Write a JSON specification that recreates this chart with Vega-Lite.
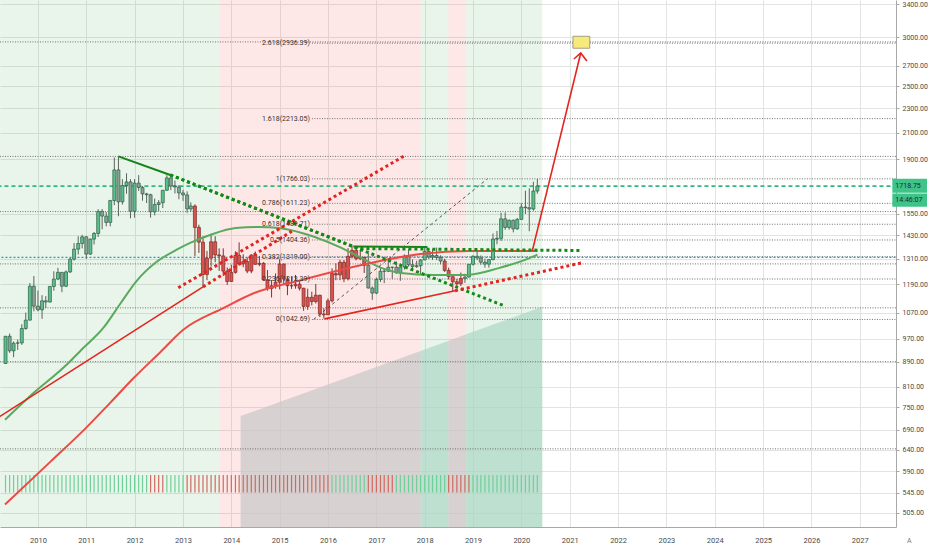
{
  "$schema": "https://vega.github.io/schema/vega-lite/v6.json",
  "width": 896,
  "height": 527,
  "autosize": {"type": "none"},
  "padding": {"left": 0, "top": 0, "right": 36, "bottom": 23},
  "background": "white",
  "config": {"view": {"stroke": null}, "font": "Roboto"},
  "datasets": {
    "bars": [
      {"d": "2009-05-01", "o": 884, "h": 980, "l": 883, "c": 979, "trend": "bull", "sig": "bull"},
      {"d": "2009-06-01", "o": 979, "h": 989, "l": 920, "c": 927, "trend": "bull", "sig": "bull"},
      {"d": "2009-07-01", "o": 927, "h": 960, "l": 905, "c": 954, "trend": "bull", "sig": "bull"},
      {"d": "2009-08-01", "o": 954, "h": 967, "l": 930, "c": 955, "trend": "bull", "sig": "bull"},
      {"d": "2009-09-01", "o": 955, "h": 1024, "l": 948, "c": 1008, "trend": "bull", "sig": "bull"},
      {"d": "2009-10-01", "o": 1008, "h": 1070, "l": 1003, "c": 1040, "trend": "bull", "sig": "bull"},
      {"d": "2009-11-01", "o": 1040, "h": 1195, "l": 1039, "c": 1181, "trend": "bull", "sig": "bull"},
      {"d": "2009-12-01", "o": 1181, "h": 1227, "l": 1075, "c": 1096, "trend": "bull", "sig": "bull"},
      {"d": "2010-01-01", "o": 1096, "h": 1162, "l": 1075, "c": 1081, "trend": "bull", "sig": "bull"},
      {"d": "2010-02-01", "o": 1081, "h": 1142, "l": 1045, "c": 1118, "trend": "bull", "sig": "bull"},
      {"d": "2010-03-01", "o": 1118, "h": 1138, "l": 1088, "c": 1113, "trend": "bull", "sig": "bull"},
      {"d": "2010-04-01", "o": 1113, "h": 1181, "l": 1111, "c": 1180, "trend": "bull", "sig": "bull"},
      {"d": "2010-05-01", "o": 1180, "h": 1249, "l": 1161, "c": 1213, "trend": "bull", "sig": "bull"},
      {"d": "2010-06-01", "o": 1213, "h": 1265, "l": 1208, "c": 1244, "trend": "bull", "sig": "bull"},
      {"d": "2010-07-01", "o": 1244, "h": 1245, "l": 1155, "c": 1181, "trend": "bull", "sig": "bull"},
      {"d": "2010-08-01", "o": 1181, "h": 1253, "l": 1177, "c": 1246, "trend": "bull", "sig": "bull"},
      {"d": "2010-09-01", "o": 1246, "h": 1313, "l": 1241, "c": 1307, "trend": "bull", "sig": "bull"},
      {"d": "2010-10-01", "o": 1307, "h": 1388, "l": 1300, "c": 1357, "trend": "bull", "sig": "bull"},
      {"d": "2010-11-01", "o": 1357, "h": 1424, "l": 1330, "c": 1386, "trend": "bull", "sig": "bull"},
      {"d": "2010-12-01", "o": 1386, "h": 1432, "l": 1361, "c": 1421, "trend": "bull", "sig": "bull"},
      {"d": "2011-01-01", "o": 1421, "h": 1424, "l": 1308, "c": 1332, "trend": "bull", "sig": "bull"},
      {"d": "2011-02-01", "o": 1332, "h": 1412, "l": 1329, "c": 1409, "trend": "bull", "sig": "bull"},
      {"d": "2011-03-01", "o": 1409, "h": 1447, "l": 1381, "c": 1439, "trend": "bull", "sig": "bull"},
      {"d": "2011-04-01", "o": 1439, "h": 1576, "l": 1420, "c": 1563, "trend": "bull", "sig": "bull"},
      {"d": "2011-05-01", "o": 1563, "h": 1577, "l": 1462, "c": 1536, "trend": "bull", "sig": "bull"},
      {"d": "2011-06-01", "o": 1536, "h": 1560, "l": 1478, "c": 1500, "trend": "bull", "sig": "bull"},
      {"d": "2011-07-01", "o": 1500, "h": 1632, "l": 1478, "c": 1628, "trend": "bull", "sig": "bull"},
      {"d": "2011-08-01", "o": 1628, "h": 1913, "l": 1600, "c": 1826, "trend": "bull", "sig": "bull"},
      {"d": "2011-09-01", "o": 1826, "h": 1921, "l": 1535, "c": 1620, "trend": "bull", "sig": "bull"},
      {"d": "2011-10-01", "o": 1620, "h": 1764, "l": 1604, "c": 1722, "trend": "bull", "sig": "bull"},
      {"d": "2011-11-01", "o": 1722, "h": 1803, "l": 1670, "c": 1746, "trend": "bull", "sig": "bull"},
      {"d": "2011-12-01", "o": 1746, "h": 1764, "l": 1523, "c": 1564, "trend": "bull", "sig": "bull"},
      {"d": "2012-01-01", "o": 1564, "h": 1764, "l": 1527, "c": 1738, "trend": "bull", "sig": "bull"},
      {"d": "2012-02-01", "o": 1738, "h": 1791, "l": 1688, "c": 1710, "trend": "bull", "sig": "bull"},
      {"d": "2012-03-01", "o": 1710, "h": 1719, "l": 1627, "c": 1669, "trend": "bull", "sig": "bull"},
      {"d": "2012-04-01", "o": 1669, "h": 1676, "l": 1613, "c": 1664, "trend": "bull", "sig": "bull"},
      {"d": "2012-05-01", "o": 1664, "h": 1670, "l": 1527, "c": 1561, "trend": "bull", "sig": "bear"},
      {"d": "2012-06-01", "o": 1561, "h": 1640, "l": 1540, "c": 1604, "trend": "bull", "sig": "bear"},
      {"d": "2012-07-01", "o": 1604, "h": 1631, "l": 1564, "c": 1615, "trend": "bull", "sig": "bear"},
      {"d": "2012-08-01", "o": 1615, "h": 1693, "l": 1583, "c": 1692, "trend": "bull", "sig": "bear"},
      {"d": "2012-09-01", "o": 1692, "h": 1790, "l": 1688, "c": 1772, "trend": "bull", "sig": "bull"},
      {"d": "2012-10-01", "o": 1772, "h": 1796, "l": 1693, "c": 1719, "trend": "bull", "sig": "bull"},
      {"d": "2012-11-01", "o": 1719, "h": 1755, "l": 1672, "c": 1713, "trend": "bull", "sig": "bull"},
      {"d": "2012-12-01", "o": 1713, "h": 1726, "l": 1636, "c": 1675, "trend": "bull", "sig": "bull"},
      {"d": "2013-01-01", "o": 1675, "h": 1695, "l": 1626, "c": 1663, "trend": "bull", "sig": "bull"},
      {"d": "2013-02-01", "o": 1663, "h": 1685, "l": 1555, "c": 1578, "trend": "bull", "sig": "bear"},
      {"d": "2013-03-01", "o": 1578, "h": 1617, "l": 1562, "c": 1595, "trend": "bull", "sig": "bear"},
      {"d": "2013-04-01", "o": 1595, "h": 1605, "l": 1321, "c": 1472, "trend": "bear", "sig": "bear"},
      {"d": "2013-05-01", "o": 1472, "h": 1487, "l": 1338, "c": 1393, "trend": "bear", "sig": "bear"},
      {"d": "2013-06-01", "o": 1393, "h": 1424, "l": 1180, "c": 1234, "trend": "bear", "sig": "bear"},
      {"d": "2013-07-01", "o": 1234, "h": 1348, "l": 1208, "c": 1312, "trend": "bear", "sig": "bear"},
      {"d": "2013-08-01", "o": 1312, "h": 1434, "l": 1271, "c": 1395, "trend": "bear", "sig": "bear"},
      {"d": "2013-09-01", "o": 1395, "h": 1424, "l": 1292, "c": 1328, "trend": "bear", "sig": "bear"},
      {"d": "2013-10-01", "o": 1328, "h": 1361, "l": 1251, "c": 1323, "trend": "bear", "sig": "bear"},
      {"d": "2013-11-01", "o": 1323, "h": 1361, "l": 1227, "c": 1250, "trend": "bear", "sig": "bear"},
      {"d": "2013-12-01", "o": 1250, "h": 1267, "l": 1187, "c": 1202, "trend": "bear", "sig": "bear"},
      {"d": "2014-01-01", "o": 1202, "h": 1280, "l": 1202, "c": 1244, "trend": "bear", "sig": "bear"},
      {"d": "2014-02-01", "o": 1244, "h": 1346, "l": 1238, "c": 1326, "trend": "bear", "sig": "bear"},
      {"d": "2014-03-01", "o": 1326, "h": 1392, "l": 1277, "c": 1284, "trend": "bear", "sig": "bear"},
      {"d": "2014-04-01", "o": 1284, "h": 1331, "l": 1268, "c": 1295, "trend": "bear", "sig": "bear"},
      {"d": "2014-05-01", "o": 1295, "h": 1315, "l": 1240, "c": 1250, "trend": "bear", "sig": "bear"},
      {"d": "2014-06-01", "o": 1250, "h": 1332, "l": 1240, "c": 1327, "trend": "bear", "sig": "bear"},
      {"d": "2014-07-01", "o": 1327, "h": 1345, "l": 1281, "c": 1282, "trend": "bear", "sig": "bear"},
      {"d": "2014-08-01", "o": 1282, "h": 1323, "l": 1273, "c": 1287, "trend": "bear", "sig": "bear"},
      {"d": "2014-09-01", "o": 1287, "h": 1292, "l": 1207, "c": 1210, "trend": "bear", "sig": "bear"},
      {"d": "2014-10-01", "o": 1210, "h": 1255, "l": 1161, "c": 1171, "trend": "bear", "sig": "bear"},
      {"d": "2014-11-01", "o": 1171, "h": 1208, "l": 1132, "c": 1183, "trend": "bear", "sig": "bear"},
      {"d": "2014-12-01", "o": 1183, "h": 1239, "l": 1170, "c": 1199, "trend": "bear", "sig": "bear"},
      {"d": "2015-01-01", "o": 1199, "h": 1307, "l": 1167, "c": 1283, "trend": "bear", "sig": "bear"},
      {"d": "2015-02-01", "o": 1283, "h": 1286, "l": 1190, "c": 1213, "trend": "bear", "sig": "bear"},
      {"d": "2015-03-01", "o": 1213, "h": 1224, "l": 1142, "c": 1183, "trend": "bear", "sig": "bear"},
      {"d": "2015-04-01", "o": 1183, "h": 1224, "l": 1169, "c": 1183, "trend": "bear", "sig": "bear"},
      {"d": "2015-05-01", "o": 1183, "h": 1232, "l": 1170, "c": 1190, "trend": "bear", "sig": "bear"},
      {"d": "2015-06-01", "o": 1190, "h": 1205, "l": 1162, "c": 1172, "trend": "bear", "sig": "bear"},
      {"d": "2015-07-01", "o": 1172, "h": 1174, "l": 1077, "c": 1095, "trend": "bear", "sig": "bear"},
      {"d": "2015-08-01", "o": 1095, "h": 1170, "l": 1081, "c": 1133, "trend": "bear", "sig": "bear"},
      {"d": "2015-09-01", "o": 1133, "h": 1157, "l": 1099, "c": 1115, "trend": "bear", "sig": "bear"},
      {"d": "2015-10-01", "o": 1115, "h": 1191, "l": 1107, "c": 1142, "trend": "bear", "sig": "bear"},
      {"d": "2015-11-01", "o": 1142, "h": 1143, "l": 1052, "c": 1064, "trend": "bear", "sig": "bear"},
      {"d": "2015-12-01", "o": 1064, "h": 1088, "l": 1046, "c": 1061, "trend": "bear", "sig": "bear"},
      {"d": "2016-01-01", "o": 1061, "h": 1128, "l": 1061, "c": 1118, "trend": "bear", "sig": "bear"},
      {"d": "2016-02-01", "o": 1118, "h": 1263, "l": 1111, "c": 1238, "trend": "bear", "sig": "bull"},
      {"d": "2016-03-01", "o": 1238, "h": 1287, "l": 1208, "c": 1232, "trend": "bear", "sig": "bull"},
      {"d": "2016-04-01", "o": 1232, "h": 1304, "l": 1208, "c": 1292, "trend": "bear", "sig": "bull"},
      {"d": "2016-05-01", "o": 1292, "h": 1303, "l": 1199, "c": 1215, "trend": "bear", "sig": "bull"},
      {"d": "2016-06-01", "o": 1215, "h": 1362, "l": 1207, "c": 1321, "trend": "bear", "sig": "bull"},
      {"d": "2016-07-01", "o": 1321, "h": 1375, "l": 1310, "c": 1351, "trend": "bear", "sig": "bull"},
      {"d": "2016-08-01", "o": 1351, "h": 1366, "l": 1301, "c": 1309, "trend": "bear", "sig": "bull"},
      {"d": "2016-09-01", "o": 1309, "h": 1352, "l": 1302, "c": 1316, "trend": "bear", "sig": "bull"},
      {"d": "2016-10-01", "o": 1316, "h": 1318, "l": 1241, "c": 1277, "trend": "bear", "sig": "bull"},
      {"d": "2016-11-01", "o": 1277, "h": 1337, "l": 1171, "c": 1173, "trend": "bull", "sig": "bear"},
      {"d": "2016-12-01", "o": 1173, "h": 1180, "l": 1122, "c": 1151, "trend": "bull", "sig": "bear"},
      {"d": "2017-01-01", "o": 1151, "h": 1220, "l": 1146, "c": 1211, "trend": "bull", "sig": "bear"},
      {"d": "2017-02-01", "o": 1211, "h": 1264, "l": 1200, "c": 1249, "trend": "bull", "sig": "bear"},
      {"d": "2017-03-01", "o": 1249, "h": 1263, "l": 1195, "c": 1249, "trend": "bull", "sig": "bear"},
      {"d": "2017-04-01", "o": 1249, "h": 1295, "l": 1245, "c": 1268, "trend": "bull", "sig": "bear"},
      {"d": "2017-05-01", "o": 1268, "h": 1270, "l": 1214, "c": 1268, "trend": "bull", "sig": "bear"},
      {"d": "2017-06-01", "o": 1268, "h": 1296, "l": 1237, "c": 1242, "trend": "bull", "sig": "bull"},
      {"d": "2017-07-01", "o": 1242, "h": 1270, "l": 1205, "c": 1269, "trend": "bull", "sig": "bull"},
      {"d": "2017-08-01", "o": 1269, "h": 1331, "l": 1257, "c": 1322, "trend": "bull", "sig": "bull"},
      {"d": "2017-09-01", "o": 1322, "h": 1357, "l": 1271, "c": 1280, "trend": "bull", "sig": "bull"},
      {"d": "2017-10-01", "o": 1280, "h": 1306, "l": 1260, "c": 1271, "trend": "bull", "sig": "bull"},
      {"d": "2017-11-01", "o": 1271, "h": 1299, "l": 1265, "c": 1275, "trend": "bull", "sig": "bull"},
      {"d": "2017-12-01", "o": 1275, "h": 1307, "l": 1236, "c": 1303, "trend": "bull", "sig": "bull"},
      {"d": "2018-01-01", "o": 1303, "h": 1366, "l": 1302, "c": 1345, "trend": "bull", "sig": "bull"},
      {"d": "2018-02-01", "o": 1345, "h": 1361, "l": 1307, "c": 1318, "trend": "bull", "sig": "bull"},
      {"d": "2018-03-01", "o": 1318, "h": 1356, "l": 1303, "c": 1325, "trend": "bull", "sig": "bull"},
      {"d": "2018-04-01", "o": 1325, "h": 1365, "l": 1302, "c": 1316, "trend": "bull", "sig": "bull"},
      {"d": "2018-05-01", "o": 1316, "h": 1326, "l": 1282, "c": 1298, "trend": "bull", "sig": "bull"},
      {"d": "2018-06-01", "o": 1298, "h": 1309, "l": 1246, "c": 1253, "trend": "bear", "sig": "bull"},
      {"d": "2018-07-01", "o": 1253, "h": 1266, "l": 1211, "c": 1224, "trend": "bear", "sig": "bear"},
      {"d": "2018-08-01", "o": 1224, "h": 1224, "l": 1160, "c": 1201, "trend": "bear", "sig": "bear"},
      {"d": "2018-09-01", "o": 1201, "h": 1214, "l": 1180, "c": 1192, "trend": "bear", "sig": "bear"},
      {"d": "2018-10-01", "o": 1192, "h": 1243, "l": 1182, "c": 1215, "trend": "bear", "sig": "bear"},
      {"d": "2018-11-01", "o": 1215, "h": 1237, "l": 1196, "c": 1222, "trend": "bull", "sig": "bear"},
      {"d": "2018-12-01", "o": 1222, "h": 1284, "l": 1221, "c": 1282, "trend": "bull", "sig": "bear"},
      {"d": "2019-01-01", "o": 1282, "h": 1326, "l": 1276, "c": 1321, "trend": "bull", "sig": "bull"},
      {"d": "2019-02-01", "o": 1321, "h": 1346, "l": 1302, "c": 1313, "trend": "bull", "sig": "bull"},
      {"d": "2019-03-01", "o": 1313, "h": 1325, "l": 1280, "c": 1292, "trend": "bull", "sig": "bull"},
      {"d": "2019-04-01", "o": 1292, "h": 1310, "l": 1266, "c": 1283, "trend": "bull", "sig": "bull"},
      {"d": "2019-05-01", "o": 1283, "h": 1306, "l": 1266, "c": 1305, "trend": "bull", "sig": "bull"},
      {"d": "2019-06-01", "o": 1305, "h": 1439, "l": 1301, "c": 1409, "trend": "bull", "sig": "bull"},
      {"d": "2019-07-01", "o": 1409, "h": 1453, "l": 1382, "c": 1413, "trend": "bull", "sig": "bull"},
      {"d": "2019-08-01", "o": 1413, "h": 1555, "l": 1400, "c": 1520, "trend": "bull", "sig": "bull"},
      {"d": "2019-09-01", "o": 1520, "h": 1557, "l": 1459, "c": 1472, "trend": "bull", "sig": "bull"},
      {"d": "2019-10-01", "o": 1472, "h": 1517, "l": 1459, "c": 1512, "trend": "bull", "sig": "bull"},
      {"d": "2019-11-01", "o": 1512, "h": 1516, "l": 1445, "c": 1464, "trend": "bull", "sig": "bull"},
      {"d": "2019-12-01", "o": 1464, "h": 1525, "l": 1459, "c": 1517, "trend": "bull", "sig": "bull"},
      {"d": "2020-01-01", "o": 1517, "h": 1611, "l": 1517, "c": 1589, "trend": "bull", "sig": "bull"},
      {"d": "2020-02-01", "o": 1589, "h": 1689, "l": 1548, "c": 1585, "trend": "bull", "sig": "bull"},
      {"d": "2020-03-01", "o": 1585, "h": 1704, "l": 1451, "c": 1577, "trend": "bull", "sig": "bull"},
      {"d": "2020-04-01", "o": 1577, "h": 1747, "l": 1567, "c": 1687, "trend": "bull", "sig": "bull"},
      {"d": "2020-05-01", "o": 1687, "h": 1765, "l": 1670, "c": 1719, "trend": "bull", "sig": "bull"}
    ],
    "bands": [
      {"d": "2009-03-01", "d2": "2013-10-05", "kind": "bull"},
      {"d": "2013-10-05", "d2": "2017-12-01", "kind": "bear"},
      {"d": "2017-12-01", "d2": "2018-06-28", "kind": "bull"},
      {"d": "2018-06-28", "d2": "2018-11-10", "kind": "bear"},
      {"d": "2018-11-10", "d2": "2020-06-07", "kind": "bull"}
    ],
    "shade": [
      {"d": "2014-03-12", "v": 726, "seg": "a", "kind": "gray"},
      {"d": "2017-12-01", "v": 926, "seg": "a", "kind": "gray"},
      {"d": "2017-12-01", "v": 926, "seg": "b", "kind": "teal"},
      {"d": "2018-06-28", "v": 962, "seg": "b", "kind": "teal"},
      {"d": "2018-06-28", "v": 962, "seg": "c", "kind": "gray"},
      {"d": "2018-11-10", "v": 986, "seg": "c", "kind": "gray"},
      {"d": "2018-11-10", "v": 986, "seg": "d", "kind": "teal"},
      {"d": "2020-06-07", "v": 1093, "seg": "d", "kind": "teal"}
    ],
    "levels": [
      {"d": "2009-03-01", "d2": "2027-12-01", "v": 2950, "style": "dot", "label": ""},
      {"d": "2009-03-01", "d2": "2027-12-01", "v": 1921, "style": "dot", "label": ""},
      {"d": "2009-03-01", "d2": "2027-12-01", "v": 1562, "style": "dot", "label": ""},
      {"d": "2009-03-01", "d2": "2027-12-01", "v": 1284, "style": "dot", "label": ""},
      {"d": "2009-03-01", "d2": "2027-12-01", "v": 1089, "style": "dot", "label": ""},
      {"d": "2009-03-01", "d2": "2027-12-01", "v": 890, "style": "dot", "label": ""},
      {"d": "2009-03-01", "d2": "2027-12-01", "v": 642, "style": "dot", "label": ""},
      {"d": "2015-09-02", "d2": "2027-12-01", "v": 2936.39, "style": "fib", "label": "2.618(2936.39)"},
      {"d": "2015-09-02", "d2": "2027-12-01", "v": 2213.05, "style": "fib", "label": "1.618(2213.05)"},
      {"d": "2015-09-02", "d2": "2027-12-01", "v": 1766.03, "style": "fib", "label": "1(1766.03)"},
      {"d": "2015-09-02", "d2": "2027-12-01", "v": 1611.23, "style": "fib", "label": "0.786(1611.23)"},
      {"d": "2015-09-02", "d2": "2027-12-01", "v": 1489.71, "style": "fib", "label": "0.618(1489.71)"},
      {"d": "2015-09-02", "d2": "2027-12-01", "v": 1404.36, "style": "fib", "label": "0.5(1404.36)"},
      {"d": "2015-09-02", "d2": "2027-12-01", "v": 1319.0, "style": "fib", "label": "0.382(1319.00)"},
      {"d": "2015-09-02", "d2": "2027-12-01", "v": 1213.39, "style": "fib", "label": "0.236(1213.39)"},
      {"d": "2015-09-02", "d2": "2027-12-01", "v": 1042.69, "style": "fib", "label": "0(1042.69)"},
      {"d": "2009-03-01", "d2": "2027-12-01", "v": 1718.75, "style": "last", "label": ""},
      {"d": "2009-03-01", "d2": "2027-12-01", "v": 1316, "style": "blue", "label": ""}
    ],
    "lines": [
      {"id": "gtop", "style": "gsolid", "d": "2011-09-01", "v": 1921},
      {"id": "gtop", "style": "gsolid", "d": "2012-09-27", "v": 1792},
      {"id": "gh", "style": "gsolid", "d": "2016-07-10", "v": 1370},
      {"id": "gh", "style": "gsolid", "d": "2018-01-22", "v": 1368},
      {"id": "gdn", "style": "gdot", "d": "2012-09-27", "v": 1792},
      {"id": "gdn", "style": "gdot", "d": "2019-08-26", "v": 1097},
      {"id": "gup", "style": "gdot", "d": "2012-09-27", "v": 1792},
      {"id": "gup", "style": "gdot", "d": "2016-08-18", "v": 1360},
      {"id": "gup", "style": "gdot", "d": "2021-04-02", "v": 1350},
      {"id": "rA", "style": "rsolid", "d": "2009-03-15", "v": 724},
      {"id": "rA", "style": "rsolid", "d": "2013-06-01", "v": 1178},
      {"id": "rD", "style": "rsolid", "d": "2015-12-06", "v": 1045},
      {"id": "rD", "style": "rsolid", "d": "2018-08-18", "v": 1161},
      {"id": "arrow", "style": "rsolid", "d": "2020-03-24", "v": 1348},
      {"id": "arrow", "style": "rsolid", "d": "2021-03-25", "v": 2830},
      {"id": "head", "style": "rsolid", "d": "2021-02-01", "v": 2767},
      {"id": "head", "style": "rsolid", "d": "2021-03-25", "v": 2830},
      {"id": "head", "style": "rsolid", "d": "2021-05-10", "v": 2746},
      {"id": "rB", "style": "rdot", "d": "2012-11-26", "v": 1174},
      {"id": "rB", "style": "rdot", "d": "2017-08-11", "v": 1931},
      {"id": "rC", "style": "rdot", "d": "2013-06-01", "v": 1178},
      {"id": "rC", "style": "rdot", "d": "2015-04-03", "v": 1451},
      {"id": "rD2", "style": "rdot", "d": "2018-08-18", "v": 1161},
      {"id": "rD2", "style": "rdot", "d": "2021-04-02", "v": 1289},
      {"id": "diag", "style": "dash", "d": "2015-09-15", "v": 1043},
      {"id": "diag", "style": "dash", "d": "2019-04-20", "v": 1766}
    ],
    "ma": [
      {"id": "fast", "d": "2009-04-27", "v": 716},
      {"id": "fast", "d": "2009-10-18", "v": 777},
      {"id": "fast", "d": "2010-08-27", "v": 889},
      {"id": "fast", "d": "2010-11-24", "v": 930},
      {"id": "fast", "d": "2011-05-16", "v": 1014},
      {"id": "fast", "d": "2011-09-20", "v": 1110},
      {"id": "fast", "d": "2012-01-17", "v": 1205},
      {"id": "fast", "d": "2012-06-16", "v": 1294},
      {"id": "fast", "d": "2012-11-11", "v": 1353},
      {"id": "fast", "d": "2013-02-24", "v": 1389},
      {"id": "fast", "d": "2013-07-24", "v": 1431},
      {"id": "fast", "d": "2014-02-03", "v": 1469},
      {"id": "fast", "d": "2014-08-01", "v": 1475},
      {"id": "fast", "d": "2014-12-28", "v": 1469},
      {"id": "fast", "d": "2015-06-18", "v": 1442},
      {"id": "fast", "d": "2015-09-23", "v": 1420},
      {"id": "fast", "d": "2016-04-12", "v": 1363},
      {"id": "fast", "d": "2016-09-09", "v": 1313},
      {"id": "fast", "d": "2017-02-06", "v": 1265},
      {"id": "fast", "d": "2017-07-04", "v": 1241},
      {"id": "fast", "d": "2018-03-08", "v": 1232},
      {"id": "fast", "d": "2018-11-16", "v": 1232},
      {"id": "fast", "d": "2019-07-21", "v": 1265},
      {"id": "fast", "d": "2020-03-24", "v": 1318},
      {"id": "fast", "d": "2020-05-01", "v": 1330},
      {"id": "slow", "d": "2009-04-27", "v": 521},
      {"id": "slow", "d": "2010-04-06", "v": 612},
      {"id": "slow", "d": "2010-12-17", "v": 690},
      {"id": "slow", "d": "2011-07-06", "v": 765},
      {"id": "slow", "d": "2011-12-25", "v": 837},
      {"id": "slow", "d": "2012-07-15", "v": 923},
      {"id": "slow", "d": "2013-01-03", "v": 1003},
      {"id": "slow", "d": "2013-11-05", "v": 1089},
      {"id": "slow", "d": "2014-06-10", "v": 1148},
      {"id": "slow", "d": "2015-06-18", "v": 1209},
      {"id": "slow", "d": "2016-04-12", "v": 1256},
      {"id": "slow", "d": "2017-02-06", "v": 1299},
      {"id": "slow", "d": "2017-12-01", "v": 1333},
      {"id": "slow", "d": "2018-12-08", "v": 1348},
      {"id": "slow", "d": "2020-05-01", "v": 1348}
    ],
    "target": [
      {"d": "2021-01-25", "d2": "2021-06-01", "v": 2881, "v2": 3013}
    ],
    "tags": [
      {"d": "2027-09-04", "d2": "2028-05-23", "v": 1676, "v2": 1766, "mid": 1720, "label": "1718.75"},
      {"d": "2027-09-04", "d2": "2028-05-23", "v": 1590, "v2": 1672, "mid": 1630, "label": "14:46:07"}
    ],
    "corner": [
      {"d": "2028-01-10", "v": 455, "label": "A"}
    ]
  },
  "encoding": {
    "x": {
      "field": "d",
      "type": "temporal",
      "title": null,
      "scale": {
        "type": "utc",
        "nice": false,
        "domain": [
          {"year": 2009, "month": 4, "date": 27, "utc": true},
          {"year": 2027, "month": 8, "date": 25, "utc": true}
        ]
      },
      "axis": {
        "orient": "bottom",
        "format": "%Y",
        "tickCount": {"interval": "year", "step": 1},
        "labelFontSize": 7.5,
        "labelColor": "#4a4a4a",
        "ticks": false,
        "labelPadding": 9,
        "labelFlush": false,
        "labelOverlap": false,
        "domainColor": "#a8a8a8",
        "gridColor": "#e2e4e2"
      }
    }
  },
  "layer": [
    {
      "data": {"name": "bands"},
      "mark": {"type": "rect", "opacity": 0.12, "clip": true},
      "encoding": {
        "x2": {"field": "d2"},
        "color": {"condition": {"test": "datum.kind === 'bear'", "value": "#f44336"}, "value": "#4caf50"}
      }
    },
    {
      "data": {"name": "shade"},
      "transform": [{"filter": "datum.kind === 'gray'"}],
      "mark": {"type": "area", "color": "#c8c8c8", "opacity": 0.7},
      "encoding": {
        "y": {
          "field": "v",
          "type": "quantitative",
          "title": null,
          "scale": {"type": "log", "domain": [479, 3452], "nice": false, "zero": false},
          "axis": {
            "orient": "right",
            "values": [505, 545, 590, 640, 690, 750, 810, 890, 970, 1070, 1190, 1310, 1430, 1550, 1900, 2100, 2300, 2500, 2700, 3000, 3400],
            "format": ".2f",
            "labelFontSize": 7,
            "labelColor": "#4a4a4a",
            "tickSize": 3,
            "tickColor": "#a8a8a8",
            "labelPadding": 3,
            "domainColor": "#a8a8a8",
            "gridColor": "#e2e4e2"
          }
        },
        "y2": {"datum": 479},
        "detail": {"field": "seg"}
      }
    },
    {
      "data": {"name": "shade"},
      "transform": [{"filter": "datum.kind === 'teal'"}],
      "mark": {"type": "area", "color": "#abd7c4", "opacity": 0.7},
      "encoding": {
        "y": {"field": "v", "type": "quantitative", "title": null},
        "y2": {"datum": 479},
        "detail": {"field": "seg"}
      }
    },
    {
      "data": {"name": "levels"},
      "transform": [{"filter": "datum.style === 'dot' || datum.style === 'fib'"}],
      "mark": {"type": "rule", "color": "#6f6f6f", "strokeWidth": 1, "strokeDash": [1, 1.5], "clip": true},
      "encoding": {
        "x2": {"field": "d2"},
        "y": {"field": "v", "type": "quantitative", "title": null}
      }
    },
    {
      "data": {"name": "levels"},
      "transform": [{"filter": "datum.style === 'last'"}],
      "mark": {"type": "rule", "color": "#34b77f", "strokeWidth": 1.6, "strokeDash": [4, 3], "clip": true},
      "encoding": {
        "x2": {"field": "d2"},
        "y": {"field": "v", "type": "quantitative", "title": null}
      }
    },
    {
      "data": {"name": "levels"},
      "transform": [{"filter": "datum.style === 'blue'"}],
      "mark": {"type": "rule", "color": "#1e9bd7", "strokeWidth": 1.2, "strokeDash": [2, 2], "clip": true},
      "encoding": {
        "x2": {"field": "d2"},
        "y": {"field": "v", "type": "quantitative", "title": null}
      }
    },
    {
      "data": {"name": "bars"},
      "mark": {"type": "rule", "strokeWidth": 1.2},
      "encoding": {
        "y": {"datum": 545},
        "y2": {"datum": 582},
        "color": {"condition": {"test": "datum.sig === 'bear'", "value": "#cf6a60"}, "value": "#6fcf9a"}
      }
    },
    {
      "data": {"name": "bars"},
      "mark": {"type": "rule", "strokeWidth": 1},
      "encoding": {
        "y": {"field": "l", "type": "quantitative", "title": null},
        "y2": {"field": "h"},
        "color": {"condition": {"test": "datum.trend === 'bear'", "value": "#7a3531"}, "value": "#5b635f"}
      }
    },
    {
      "data": {"name": "bars"},
      "mark": {"type": "bar", "width": 3, "strokeWidth": 0.7},
      "encoding": {
        "y": {"field": "o", "type": "quantitative", "title": null},
        "y2": {"field": "c"},
        "fill": {
          "condition": [
            {"test": "datum.trend === 'bear'", "value": "#d9534f"},
            {"test": "datum.c >= datum.o", "value": "#5cc08d"}
          ],
          "value": "#8aa396"
        },
        "stroke": {"condition": {"test": "datum.trend === 'bear'", "value": "#7c2723"}, "value": "#2b5f45"}
      }
    },
    {
      "data": {"name": "ma"},
      "transform": [{"filter": "datum.id === 'fast'"}],
      "mark": {"type": "line", "color": "#5aaa5e", "strokeWidth": 2, "interpolate": "monotone", "clip": true},
      "encoding": {"y": {"field": "v", "type": "quantitative", "title": null}}
    },
    {
      "data": {"name": "ma"},
      "transform": [{"filter": "datum.id === 'slow'"}],
      "mark": {"type": "line", "color": "#ec4b45", "strokeWidth": 2, "interpolate": "monotone", "clip": true},
      "encoding": {"y": {"field": "v", "type": "quantitative", "title": null}}
    },
    {
      "data": {"name": "lines"},
      "transform": [{"filter": "datum.style === 'dash'"}],
      "mark": {"type": "line", "color": "#444444", "strokeWidth": 0.9, "strokeDash": [3, 3]},
      "encoding": {"y": {"field": "v", "type": "quantitative", "title": null}, "detail": {"field": "id"}}
    },
    {
      "data": {"name": "lines"},
      "transform": [{"filter": "datum.style === 'gdot'"}],
      "mark": {"type": "line", "color": "#118a16", "strokeWidth": 3, "strokeDash": [3, 3], "strokeCap": "butt"},
      "encoding": {"y": {"field": "v", "type": "quantitative", "title": null}, "detail": {"field": "id"}}
    },
    {
      "data": {"name": "lines"},
      "transform": [{"filter": "datum.style === 'gsolid'"}],
      "mark": {"type": "line", "color": "#16821a", "strokeWidth": 2},
      "encoding": {"y": {"field": "v", "type": "quantitative", "title": null}, "detail": {"field": "id"}}
    },
    {
      "data": {"name": "lines"},
      "transform": [{"filter": "datum.style === 'rdot'"}],
      "mark": {"type": "line", "color": "#e5231e", "strokeWidth": 3, "strokeDash": [3, 3], "strokeCap": "butt"},
      "encoding": {"y": {"field": "v", "type": "quantitative", "title": null}, "detail": {"field": "id"}}
    },
    {
      "data": {"name": "lines"},
      "transform": [{"filter": "datum.style === 'rsolid'"}],
      "mark": {"type": "line", "color": "#e3241f", "strokeWidth": 1.6, "clip": true},
      "encoding": {"y": {"field": "v", "type": "quantitative", "title": null}, "detail": {"field": "id"}}
    },
    {
      "data": {"name": "levels"},
      "transform": [{"filter": "datum.style === 'fib'"}],
      "mark": {"type": "text", "align": "right", "baseline": "middle", "fontSize": 7, "color": "#333333", "dx": -2},
      "encoding": {
        "y": {"field": "v", "type": "quantitative", "title": null},
        "text": {"field": "label"}
      }
    },
    {
      "data": {"name": "target"},
      "mark": {"type": "rect", "fill": "#f6ea7c", "stroke": "#8a8a70", "strokeWidth": 0.8},
      "encoding": {
        "x2": {"field": "d2"},
        "y": {"field": "v", "type": "quantitative", "title": null},
        "y2": {"field": "v2"}
      }
    },
    {
      "data": {"name": "tags"},
      "mark": {"type": "rect", "fill": "#3fc389"},
      "encoding": {
        "x2": {"field": "d2"},
        "y": {"field": "v", "type": "quantitative", "title": null},
        "y2": {"field": "v2"}
      }
    },
    {
      "data": {"name": "tags"},
      "mark": {"type": "text", "align": "left", "baseline": "middle", "fontSize": 7, "color": "#1d2b24", "dx": 3},
      "encoding": {
        "y": {"field": "mid", "type": "quantitative", "title": null},
        "text": {"field": "label"}
      }
    },
    {
      "data": {"name": "corner"},
      "mark": {"type": "text", "align": "center", "baseline": "middle", "fontSize": 7, "color": "#777777"},
      "encoding": {
        "y": {"field": "v", "type": "quantitative", "title": null},
        "text": {"field": "label"}
      }
    }
  ]
}
